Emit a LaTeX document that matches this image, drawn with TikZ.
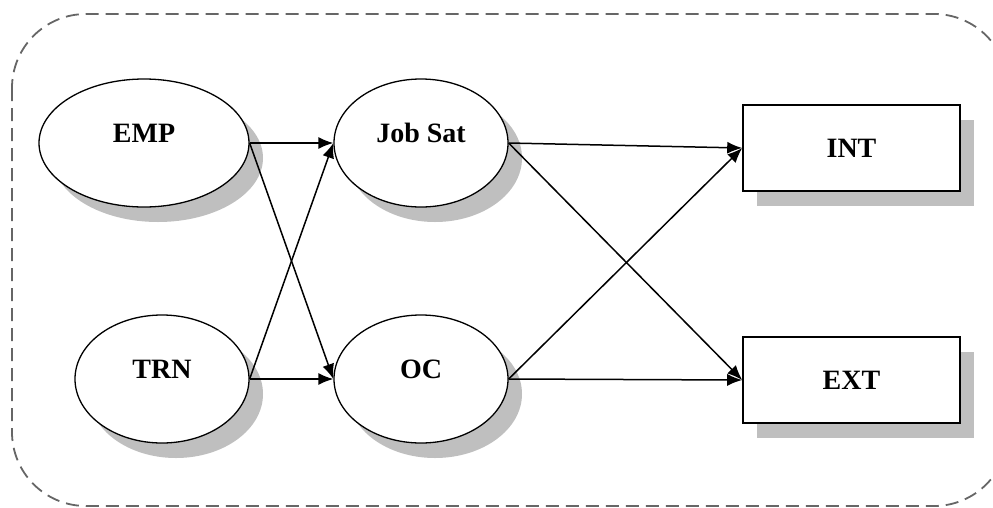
\documentclass[tikz,border=0pt]{standalone}
\usepackage{fontspec}
\setmainfont{Liberation Serif}
\usetikzlibrary{arrows.meta,shapes.geometric,shadows}
\begin{document}
\begin{tikzpicture}[x=1pt,y=-1pt,
  shad/.style={drop shadow={shadow xshift=14pt,shadow yshift=-15pt,fill=black!25,opacity=1}},
  lbl/.style={font=\fontsize{28}{32}\selectfont\bfseries},
  latent/.style={ellipse,draw,line width=1.3pt,fill=white,shad,lbl,minimum height=128pt,minimum width=174pt,inner sep=0pt,text height=19pt,text depth=21pt},
  obs/.style={rectangle,draw,line width=1.6pt,fill=white,shad,lbl,minimum width=217pt,minimum height=86pt,inner sep=0pt},
  arr/.style={-{Latex[length=15pt,width=12pt]},line width=1.5pt},
  frame/.style={draw=black!60,line width=1.8pt,dash pattern=on 13pt off 7pt,rounded corners=74pt}]
\path[use as bounding box] (0,0) rectangle (993,507);
\begin{scope}
\clip (0,0) rectangle (993,507);
\draw[frame] (12,14) rectangle (1008,506);
\end{scope}
\node[latent,minimum width=210pt] (emp) at (144,143) {EMP};
\node[latent] (jobsat) at (421,143) {Job Sat};
\node[latent] (trn) at (162,379) {TRN};
\node[latent] (oc) at (421,379) {OC};
\node[obs] (int) at (851.5,148) {INT};
\node[obs] (ext) at (851.5,380) {EXT};
\draw[arr] (emp.east) -- (jobsat.west);
\draw[arr] (emp.east) -- (oc.west);
\draw[arr] (trn.east) -- (jobsat.west);
\draw[arr] (trn.east) -- (oc.west);
\draw[arr] (jobsat.east) -- (int.west);
\draw[arr] (jobsat.east) -- (ext.west);
\draw[arr] (oc.east) -- (int.west);
\draw[arr] (oc.east) -- (ext.west);
\end{tikzpicture}
\end{document}
